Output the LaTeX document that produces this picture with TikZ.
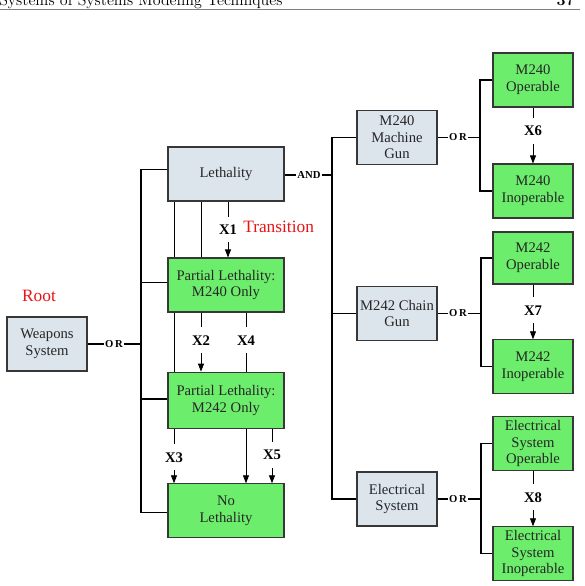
\documentclass[tikz,border=0pt]{standalone}
\usepackage{fontspec}
\newfontfamily\tnr{Liberation Serif}
\usetikzlibrary{arrows.meta,calc}
\definecolor{gfill}{RGB}{108,238,108}
\definecolor{bfill}{RGB}{220,228,236}
\definecolor{bord}{RGB}{55,55,55}
\definecolor{rootred}{RGB}{232,20,20}
\begin{document}
\begin{tikzpicture}[x=0.75pt,y=-0.75pt,
  box/.style={draw=bord, line width=0.8pt, inner sep=0pt, align=center, text=black!85,
    font=\tnr\fontsize{11}{12.5}\selectfont},
  gbox/.style={box, fill=gfill},
  bbox/.style={box, fill=bfill},
  bus/.style={line width=1.2pt, black},
  tline/.style={line width=0.6pt, black},
  arr/.style={-{Triangle[length=6pt,width=4.5pt]}},
  xlab/.style={fill=white, inner xsep=1pt, inner ysep=6pt, font=\tnr\bfseries\fontsize{11}{13}\selectfont},
  gate/.style={inner sep=1pt, font=\tnr\bfseries\fontsize{8}{9}\selectfont},
  redlab/.style={text=rootred, inner sep=0pt, font=\tnr\fontsize{13}{15}\selectfont}
]
\useasboundingbox (0,0) rectangle (585,586);

% page header (clipped at top)
\node[anchor=base west, inner sep=0pt, font=\fontsize{12}{14}\selectfont] (hdr) at (-1,5) {Systems of Systems Modeling Techniques};
\node[anchor=base east, inner sep=0pt, font=\fontsize{12}{14}\selectfont\bfseries] (pg) at (575,5) {37};
\coordinate (rl) at (0,9.5);
\coordinate (rr) at (580,9.5);
\draw[black!50, line width=0.8pt] (rl) -- (rr);

% boxes
\node[bbox, minimum width=60pt, minimum height=40.5pt] (wps) at (47,344) {Weapons\\System};
\node[bbox, minimum width=87pt, minimum height=40.5pt] (leth) at (226,174) {Lethality};
\node[gbox, minimum width=87pt, minimum height=40.5pt] (pl240) at (226,285) {Partial Lethality:\\M240 Only};
\node[gbox, minimum width=87pt, minimum height=42.5pt] (pl242) at (226,400.5) {Partial Lethality:\\M242 Only};
\node[gbox, minimum width=87pt, minimum height=40pt] (nolet) at (226,510.5) {No\\Lethality};

\node[bbox, minimum width=60pt, minimum height=40pt] (m240) at (397,137.5) {M240\\Machine\\Gun};
\node[bbox, minimum width=60pt, minimum height=40pt] (m242) at (397,313.5) {M242 Chain\\Gun};
\node[bbox, minimum width=60pt, minimum height=40.5pt] (es) at (397,499) {Electrical\\System};

\node[gbox, minimum width=60pt, minimum height=40.5pt] (m240op) at (533,80) {M240\\Operable};
\node[gbox, minimum width=60pt, minimum height=40.5pt] (m240in) at (533,191) {M240\\Inoperable};
\node[gbox, minimum width=60pt, minimum height=39pt] (m242op) at (533,258) {M242\\Operable};
\node[gbox, minimum width=60pt, minimum height=40pt] (m242in) at (533,366.5) {M242\\Inoperable};
\node[gbox, minimum width=60pt, minimum height=40pt] (esop) at (533,443.5) {Electrical\\System\\Operable};
\node[gbox, minimum width=60pt, minimum height=40pt] (esin) at (533,553.5) {Electrical\\System\\Inoperable};

% red labels
\node[redlab] (root) at (39,296) {Root};
\node[redlab, anchor=west] (trans) at (243,227) {Transition};

% gates
\node[gate] (or0) at (114,344) {O\kern1.2pt R};
\node[gate] (and) at (309,175) {AND};
\node[gate] (or1) at (458,137.5) {O\kern1.2pt R};
\node[gate] (or2) at (458,313.5) {O\kern1.2pt R};
\node[gate] (or3) at (458,499) {O\kern1.2pt R};

% bus coordinates
\coordinate (b0) at (141,344);
\coordinate (ba) at (332,175);
\coordinate (b1) at (480,137.5);
\coordinate (b2) at (481,313.5);
\coordinate (b3) at (481,499);

% OR tree from Weapons System
\draw[bus] (wps.east) -- (or0.west);
\draw[bus] (or0.east) -- (b0);
\draw[bus] ([yshift=3.5pt]leth.west) -| (b0) |- ([yshift=-1.5pt]nolet.west);
\draw[bus] ([yshift=2pt]pl240.west) -- ([yshift=2pt]pl240.west -| b0);
\draw[bus] ([yshift=1pt]pl242.west) -- ([yshift=1pt]pl242.west -| b0);

% AND tree
\draw[bus] (leth.east |- and) -- (and.west);
\draw[bus] (and.east) -- (ba);
\draw[bus] (m240.west) -| (ba) |- (es.west);
\draw[bus] (m242.west) -- (m242.west -| ba);

% OR trees on the right
\draw[bus] (m240.east) -- (or1.west);
\draw[bus] (or1.east) -- (b1);
\draw[bus] (m240op.west) -| (b1) |- (m240in.west);
\draw[bus] (m242.east) -- (or2.west);
\draw[bus] (or2.east) -- (b2);
\draw[bus] (m242op.west) -| (b2) |- (m242in.west);
\draw[bus] (es.east) -- (or3.west);
\draw[bus] (or3.east) -- (b3);
\draw[bus] (esop.west) -| (b3) |- (esin.west);

% transition columns
\coordinate (ca) at (174,0);
\coordinate (cb) at (201,0);
\coordinate (cc) at (228,0);
\coordinate (cd) at (246,0);
\coordinate (ce) at (272,0);

\draw[tline] (ca |- leth.south) -- (ca |- pl240.north);
\draw[tline] (ca |- pl240.south) -- (ca |- pl242.north);
\draw[tline, arr] (ca |- pl242.south) -- node[xlab, pos=0.52] (x3) {X3} (ca |- nolet.north);

\draw[tline] (cb |- leth.south) -- (cb |- pl240.north);
\draw[tline, arr] (cb |- pl240.south) -- node[xlab, pos=0.47] (x2) {X2} (cb |- pl242.north);

\draw[tline, arr] (cc |- leth.south) -- node[xlab] (x1) {X1} (cc |- pl240.north);

\draw[tline] (cd |- pl240.south) -- node[xlab, pos=0.47] (x4) {X4} (cd |- pl242.north);
\draw[tline, arr] (cd |- pl242.south) -- (cd |- nolet.north);

\draw[tline, arr] (ce |- pl242.south) -- node[xlab, pos=0.47] (x5) {X5} (ce |- nolet.north);

\draw[tline, arr] (m240op.south) -- node[xlab, pos=0.42] (x6) {X6} (m240in.north);
\draw[tline, arr] (m242op.south) -- node[xlab, pos=0.47] (x7) {X7} (m242in.north);
\draw[tline, arr] (esop.south) -- node[xlab, pos=0.48] (x8) {X8} (esin.north);
\end{tikzpicture}
\end{document}
